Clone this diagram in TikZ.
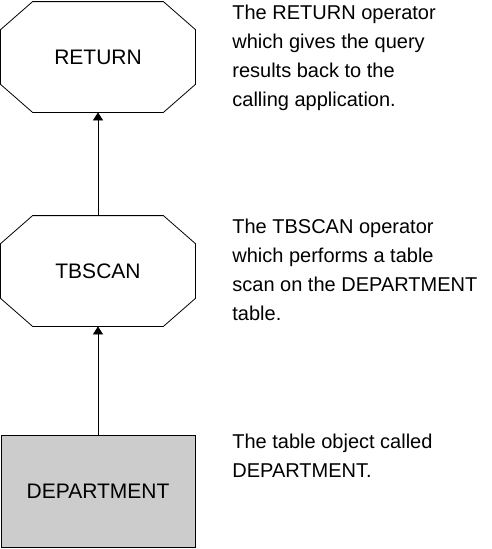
\documentclass[tikz,border=0pt]{standalone}
\usepackage{fontspec}
\setmainfont{Liberation Sans}
\usetikzlibrary{arrows.meta}
\tikzstyle{operator}=[rectangle, minimum width=194pt, minimum height=110pt, inner sep=0pt, font=\fontsize{21}{25}\selectfont]
\tikzstyle{tablebox}=[rectangle, draw, fill=black!20, minimum width=194pt, minimum height=112pt, inner sep=0pt, font=\fontsize{21}{25}\selectfont]
\tikzstyle{note}=[anchor=north west, align=left, inner sep=0pt, font=\fontsize{20}{29}\selectfont]
\tikzstyle{arrow}=[draw=black, -{Triangle[length=8pt, width=10pt]}]

\begin{document}
\begin{tikzpicture}[x=1pt, y=-1pt, thick]
		   \useasboundingbox (0,0) rectangle (491,549);
		   \begin{scope}
			   \node (ret) at (98, 57)[operator] {RETURN};
			   \node (tbs) at (98, 271)[operator] {TBSCAN};
			   \node (dept) at (98, 491)[tablebox] {DEPARTMENT};

			   \node (retnote) at (232, 4.5)[note] {The RETURN operator\\which gives the query\\results back to the\\calling application.};
			   \node (tbsnote) at (232, 218.5)[note] {The TBSCAN operator\\which performs a table\\scan on the DEPARTMENT\\table.};
			   \node (deptnote) at (232, 433.5)[note] {The table object called\\DEPARTMENT.};
		   \end{scope}
		   \begin{scope}
			   \foreach \n in {ret, tbs}
				   \draw ([xshift=32pt]\n.north west) -- ([xshift=-32pt]\n.north east)
					   -- ([yshift=-28pt]\n.north east) -- ([yshift=28pt]\n.south east)
					   -- ([xshift=-32pt]\n.south east) -- ([xshift=32pt]\n.south west)
					   -- ([yshift=28pt]\n.south west) -- ([yshift=-28pt]\n.north west) -- cycle;

			   \path (dept) edge [arrow] (tbs);
			   \path (tbs) edge [arrow] (ret);
		   \end{scope}
	   \end{tikzpicture}
\end{document}
